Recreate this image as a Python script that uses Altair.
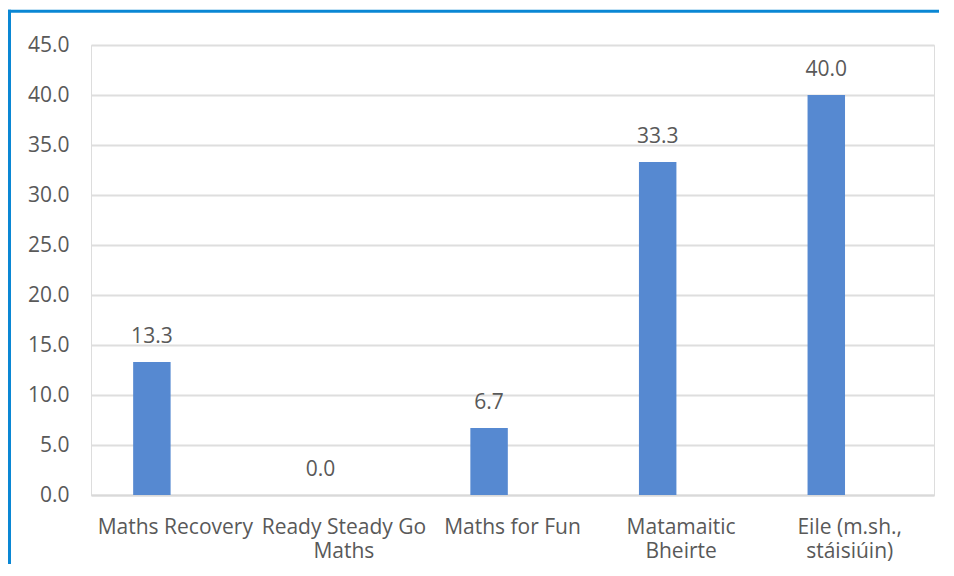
import altair as alt
import pandas as pd

categories = ["Maths Recovery", "Ready Steady Go\nMaths", "Maths for Fun",
              "Matamaitic\nBheirte", "Eile (m.sh.,\nstáisiúin)"]
values = [13.3, 0.0, 6.7, 33.3, 40.0]
y_ticks = [0, 5, 10, 15, 20, 25, 30, 35, 40, 45]
series_slots = ["A", "B"]

df = pd.DataFrame({"cat": categories, "val": values, "series": ["A"] * len(values)})

FONT = "Open Sans"
TXT = "#595959"
BAR = "#5689d1"
FRAME = "#0a87d4"
FS = 21

x_enc = alt.X(
    "cat:N", sort=categories,
    scale=alt.Scale(paddingInner=0.5, paddingOuter=0.25),
    axis=alt.Axis(title=None, labelAngle=0, labelExpr="split(datum.label, '\\n')",
                  labelFontSize=FS, labelColor=TXT, labelFont=FONT, labelPadding=21,
                  labelLineHeight=24, ticks=False, domainColor="#d9d9d9", domainWidth=2,
                  grid=False),
)
xo_enc = alt.XOffset("series:N", scale=alt.Scale(domain=series_slots, paddingInner=0.2, paddingOuter=0))
y_enc = alt.Y(
    "val:Q", scale=alt.Scale(domain=[0, 45]),
    axis=alt.Axis(title=None, values=y_ticks, format=".1f", labelFontSize=FS,
                  labelColor=TXT, labelFont=FONT, labelPadding=22, ticks=False,
                  domain=False, gridColor="#dedede", gridWidth=2),
)

base = alt.Chart(df)
bars = base.mark_bar(color=BAR).encode(x=x_enc, xOffset=xo_enc, y=y_enc)
labels = base.mark_text(dy=-19, baseline="alphabetic", fontSize=FS, color=TXT, font=FONT).encode(
    x=x_enc, xOffset=xo_enc, y=y_enc, text=alt.Text("val:Q", format=".1f")
)
frame_src = pd.DataFrame({"f": [0]})
frame_top = alt.Chart(frame_src).mark_rule(stroke=FRAME, strokeWidth=3).encode(
    x=alt.value(-83), x2=alt.value(848), y=alt.value(-33.7), y2=alt.value(-33.7)
)
frame_left = alt.Chart(frame_src).mark_rule(stroke=FRAME, strokeWidth=3).encode(
    x=alt.value(-81.5), y=alt.value(-35.2), y2=alt.value(520)
)

chart = alt.layer(frame_top, frame_left, bars, labels).properties(
    width=843, height=450,
    padding={"left": 83, "top": 37, "right": 12, "bottom": 69},
    autosize=alt.AutoSizeParams(type="none"),
).configure_view(strokeWidth=0).configure(background="white")

chart.save("out.html", embed_options={"renderer": "svg", "actions": False})
